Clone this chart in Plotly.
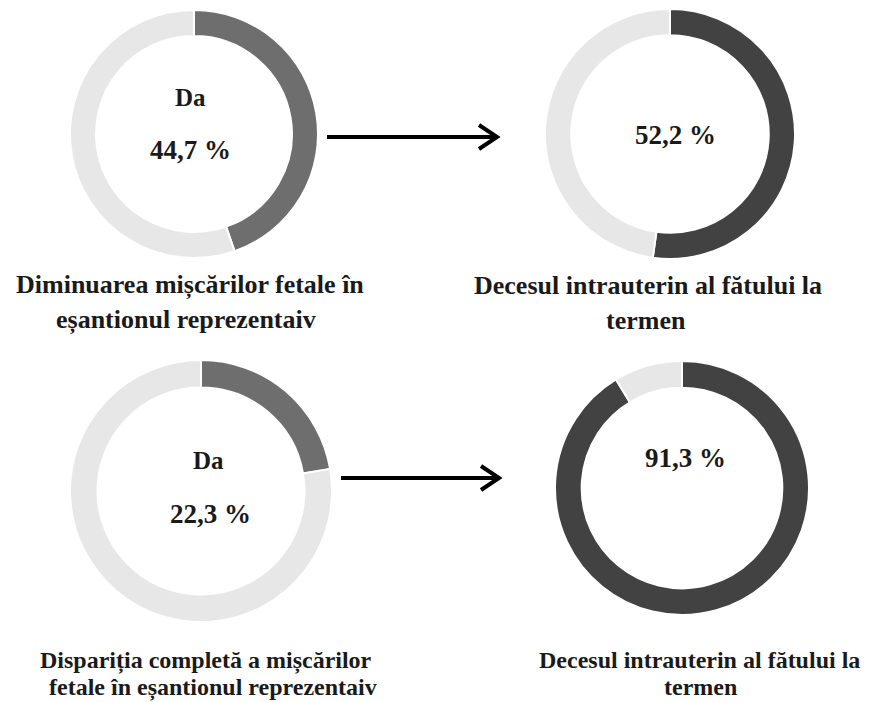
import plotly.graph_objects as go

W, H = 881, 702

# Data
share_yes = [44.7, 52.2, 22.3, 91.3]
slice_labels = ["Da", "Nu"]
center_top = ["Da", "", "Da", ""]
center_val = ["44,7 %", "52,2 %", "22,3 %", "91,3 %"]
captions = [
    ["Diminuarea mișcărilor fetale în", "eșantionul reprezentaiv"],
    ["Decesul intrauterin al fătului la", "termen"],
    ["Dispariția completă a mișcărilor", "fetale în eșantionul reprezentaiv"],
    ["Decesul intrauterin al fătului la", "termen"],
]

# Layout (pixel geometry)
centers = [(194, 134), (670, 134), (201, 491), (682, 488)]
radii = [124, 125, 131, 127]
dark_colors = ["#6e6e6e", "#424242", "#6e6e6e", "#424242"]
light_color = "#e7e7e7"
top_text_pos = [(190, 97), None, (208, 460), None]
val_text_pos = [(190, 150), (675, 135), (210, 514), (685, 458)]
caption_pos = [
    [(190, 285), (186, 320)],
    [(648, 285), (646, 320)],
    [(206, 660), (213, 687)],
    [(699, 660), (700, 687)],
]
caption_sizes = [[26, 26], [26, 26], [24, 24], [24, 24]]

def px(x):
    return x / W

def py(y):
    return 1 - y / H

fig = go.Figure()
for i, v in enumerate(share_yes):
    cx, cy = centers[i]
    r = radii[i]
    fig.add_trace(go.Pie(
        values=[v, 100 - v],
        labels=slice_labels,
        sort=False,
        direction="clockwise",
        rotation=0,
        hole=0.79,
        textinfo="none",
        hoverinfo="skip",
        marker=dict(colors=[dark_colors[i], light_color],
                    line=dict(color="white", width=2)),
        domain=dict(x=[px(cx - r), px(cx + r)], y=[py(cy + r), py(cy - r)]),
        showlegend=False,
    ))

font_family = "Liberation Serif, Times New Roman, serif"
ann = []

def add_text(x, y, text, size):
    ann.append(dict(x=px(x), y=py(y), xref="paper", yref="paper",
                    xanchor="center", yanchor="middle",
                    text="<b>%s</b>" % text, showarrow=False,
                    font=dict(family=font_family, size=size, color="#1a1a1a")))

for i in range(4):
    if top_text_pos[i] is not None and center_top[i]:
        x, y = top_text_pos[i]
        add_text(x, y, center_top[i], 25)
    x, y = val_text_pos[i]
    add_text(x, y, center_val[i], 27)
    for line, (x, y), s in zip(captions[i], caption_pos[i], caption_sizes[i]):
        add_text(x, y, line, s)

# Arrows
shapes = []
for (x0, x1, y) in [(327, 497, 137), (341, 499, 478)]:
    shapes.append(dict(type="line", xref="paper", yref="paper",
                       x0=px(x0), x1=px(x1), y0=py(y), y1=py(y),
                       line=dict(color="black", width=4)))
    shapes.append(dict(type="path", xref="paper", yref="paper",
                       path="M %f %f L %f %f L %f %f" % (
                           px(x1 - 18), py(y - 12), px(x1), py(y), px(x1 - 18), py(y + 12)),
                       line=dict(color="black", width=4)))

fig.update_layout(
    width=W, height=H,
    margin=dict(l=0, r=0, t=0, b=0),
    paper_bgcolor="white",
    plot_bgcolor="white",
    annotations=ann,
    shapes=shapes,
    showlegend=False,
)

fig.write_html("out.html")
